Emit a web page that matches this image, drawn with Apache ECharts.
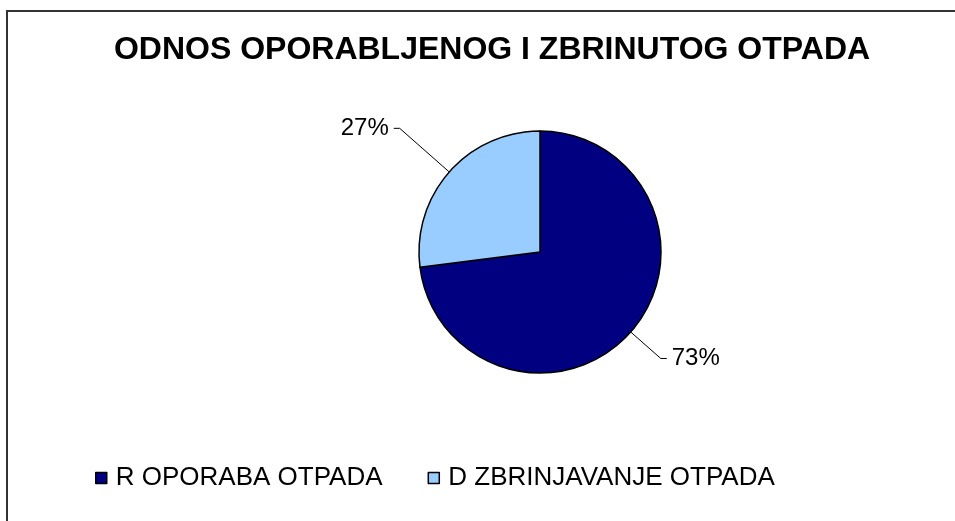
<!DOCTYPE html>
<html>
<head>
<meta charset="utf-8">
<script src="https://cdn.jsdelivr.net/npm/echarts@6/dist/echarts.min.js"></script>
<style>
html,body{margin:0;padding:0;background:#fff;}
#chart{width:955px;height:521px;}
</style>
</head>
<body>
<div id="chart"></div>
<script>
var titleText = 'ODNOS OPORABLJENOG I ZBRINUTOG OTPADA';
var categories = ['R OPORABA OTPADA', 'D ZBRINJAVANJE OTPADA'];
var values = [73, 27];
var colors = ['#000080', '#99CCFF'];

var chart = echarts.init(document.getElementById('chart'));
var font = '"Liberation Sans", Arial, sans-serif';
var lineLengths = [40, 66];
chart.setOption({
  backgroundColor: '#ffffff',
  animation: false,
  color: colors,
  title: {
    text: titleText,
    left: 487,
    top: 29,
    textAlign: 'center',
    textStyle: { fontSize: 32, fontWeight: 'bold', fontFamily: font, color: '#000' }
  },
  graphic: [{
    type: 'rect',
    shape: { x: 7, y: 11, width: 1000, height: 600 },
    style: { fill: 'none', stroke: '#333', lineWidth: 2 },
    silent: true
  }],
  legend: {
    left: 90,
    top: 460,
    icon: 'rect',
    itemWidth: 11,
    itemHeight: 11,
    itemGap: 45,
    itemStyle: { borderColor: '#000', borderWidth: 1.5 },
    textStyle: { fontSize: 26, fontFamily: font, color: '#000', padding: [0, 0, 0, 4] },
    data: categories
  },
  series: [{
    type: 'pie',
    center: [540, 252],
    radius: 121,
    startAngle: 90,
    clockwise: true,
    avoidLabelOverlap: false,
    itemStyle: { borderColor: '#000', borderWidth: 1.5 },
    label: {
      show: true,
      position: 'outside',
      formatter: function (p) { return p.value + '%'; },
      fontSize: 24,
      fontFamily: font,
      color: '#000',
      distanceToLabelLine: 5
    },
    labelLine: {
      show: true,
      length2: 6,
      lineStyle: { color: '#000', width: 1 }
    },
    emphasis: { disabled: true },
    data: categories.map(function (c, i) {
      return { name: c, value: values[i], labelLine: { length: lineLengths[i] } };
    })
  }]
});
</script>
</body>
</html>
